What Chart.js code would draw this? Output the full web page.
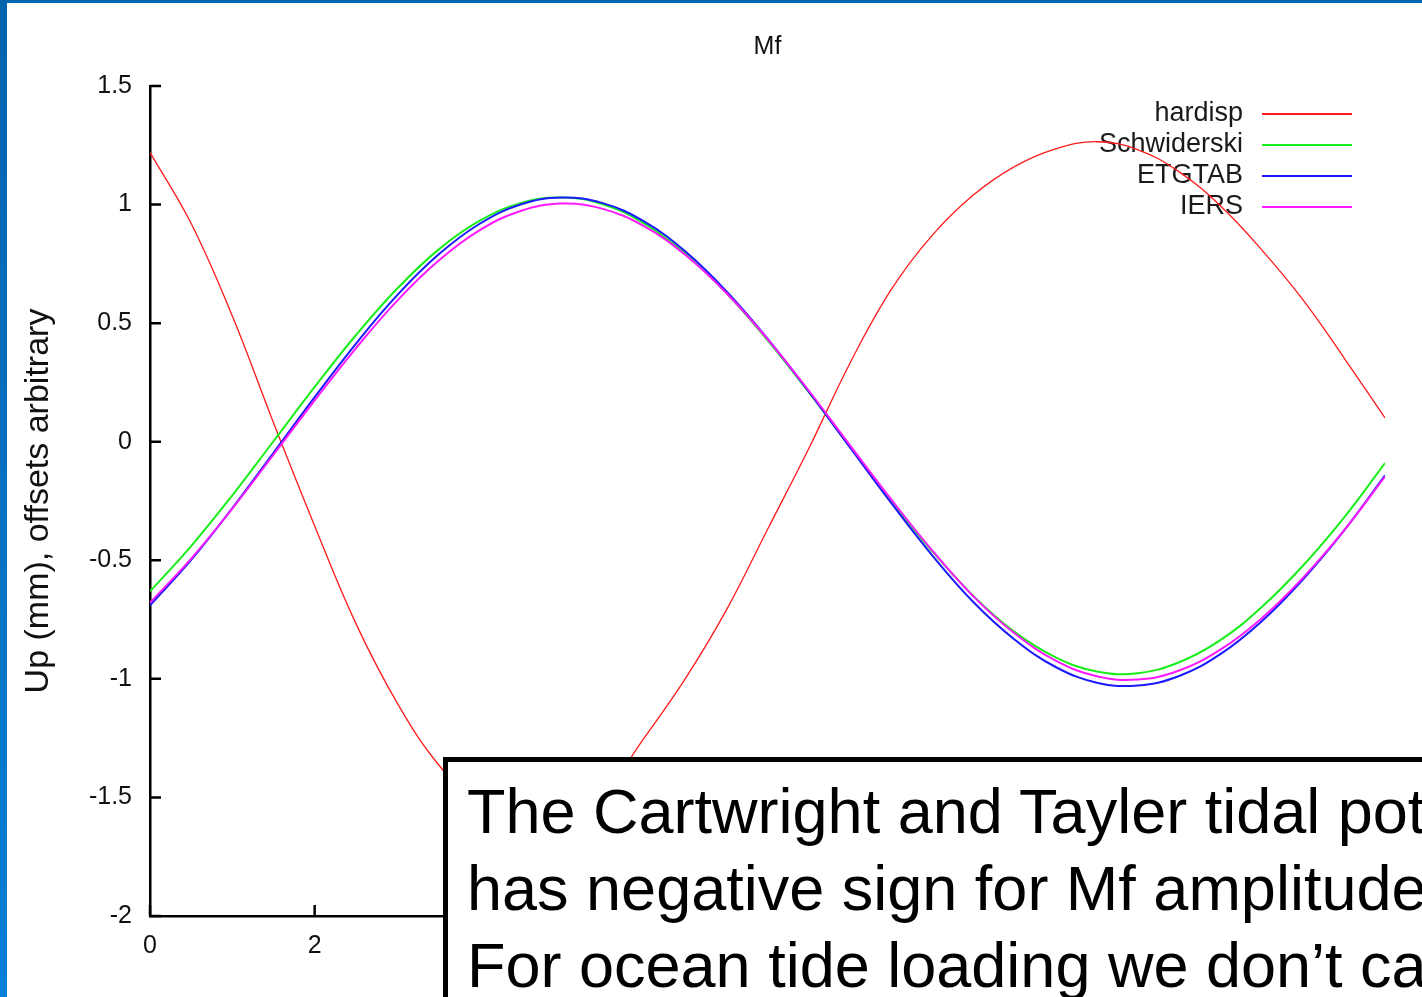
<!DOCTYPE html>
<html>
<head>
<meta charset="utf-8">
<title>Mf</title>
<script src="https://cdn.jsdelivr.net/npm/chart.js"></script>
<style>
    html, body { margin: 0; padding: 0; background: #fff; overflow: hidden; }
    #slide { position: relative; width: 1422px; height: 997px; overflow: hidden; background: #fff; }
    #grafico { position: absolute; left: 0; top: 0; }
    #barraIzq { position: absolute; left: 0; top: 0; width: 7px; height: 997px; background: linear-gradient(#0063ae, #0a7fd6); }
    #barraSup { position: absolute; left: 0; top: 0; width: 1422px; height: 3px; background: #0066b0; }
    #nota {
        position: absolute; left: 443px; top: 757px; width: 1100px; height: 300px;
        box-sizing: border-box; border: 5px solid #000; background: #fff;
        padding: 11px 0 0 19px;
        font-family: 'Liberation Sans', Arial, sans-serif; font-size: 63px; line-height: 77px;
        white-space: nowrap; color: #000;
    }
</style>
</head>
<body>
<div id="slide">
    <canvas id="grafico" width="1422" height="997"></canvas>
    <div id="barraSup"></div>
    <div id="barraIzq"></div>
    <div id="nota">
        The Cartwright and Tayler tidal potential<br>
        has negative sign for Mf amplitude<br>
        For ocean tide loading we don’t care
    </div>
</div>
<script>
// Tiempo en días y desplazamiento vertical (mm) de cada modelo
const dias = [0, 0.5, 1, 1.5, 2, 2.5, 3, 3.5, 4, 4.5, 5, 5.5, 6, 6.5, 7, 7.5,
              8, 8.5, 9, 9.5, 10, 10.5, 11, 11.5, 12, 12.5, 13, 13.5, 14, 14.5, 15];

const hardisp = [1.22, 0.92, 0.53, 0.08, -0.355, -0.766, -1.10, -1.36, -1.53, -1.62, -1.61,
                 -1.49, -1.25, -1.00, -0.71, -0.37, -0.03, 0.33, 0.64, 0.87, 1.04,
                 1.16, 1.235, 1.265, 1.231, 1.138, 0.995, 0.81, 0.60, 0.355, 0.10];

const schwiderski = [-0.631, -0.440, -0.226, 0.002, 0.231, 0.449, 0.645, 0.809, 0.931, 1.006, 1.030,
                     1.001, 0.921, 0.794, 0.627, 0.428, 0.209, -0.021, -0.248, -0.462, -0.650,
                     -0.802, -0.909, -0.969, -0.976, -0.930, -0.837, -0.698, -0.524, -0.321, -0.090];

const etgtab = [-0.690, -0.498, -0.280, -0.047, 0.188, 0.413, 0.617, 0.788, 0.918, 1.000, 1.030,
                1.006, 0.929, 0.803, 0.635, 0.435, 0.212, -0.023, -0.257, -0.479, -0.676,
                -0.834, -0.950, -1.016, -1.028, -0.988, -0.896, -0.758, -0.582, -0.376, -0.142];

const iers = [-0.679, -0.493, -0.282, -0.055, 0.174, 0.394, 0.594, 0.762, 0.891, 0.973, 1.004,
              0.982, 0.909, 0.788, 0.627, 0.433, 0.216, -0.014, -0.242, -0.458, -0.652,
              -0.808, -0.923, -0.989, -1.003, -0.965, -0.877, -0.745, -0.575, -0.375, -0.147];

const nombres = ['hardisp', 'Schwiderski', 'ETGTAB', 'IERS'];
const ticksX = [0, 2, 4, 6, 8, 10, 12, 14];
const ticksY = [-2, -1.5, -1, -0.5, 0, 0.5, 1, 1.5];

const fuente = "'Liberation Sans', Arial, sans-serif";
const colores = ['#ff1a1a', '#1aee1a', '#1a1aff', '#ff1aff'];
const grosores = [1.3, 2, 2, 2];

const serie = (valores) => valores.map((v, i) => ({ x: dias[i], y: v }));

// Leyenda al estilo gnuplot: texto alineado a la derecha y muestra de línea
const leyenda = {
    id: 'leyenda',
    beforeDatasetsDraw(chart) {
        const { ctx, chartArea: a } = chart;
        const x0 = a.right - 123;
        const x1 = a.right - 33;
        ctx.save();
        ctx.font = `27px ${fuente}`;
        ctx.textAlign = 'right';
        ctx.textBaseline = 'middle';
        chart.data.datasets.forEach((ds, i) => {
            const yy = a.top + 28 + i * 31;
            ctx.fillStyle = '#1a1a1a';
            ctx.fillText(ds.label, x0 - 19, yy);
            ctx.strokeStyle = ds.borderColor;
            ctx.lineWidth = 2;
            ctx.beginPath();
            ctx.moveTo(x0, yy);
            ctx.lineTo(x1, yy);
            ctx.stroke();
        });
        ctx.restore();
    }
};

// Marcas de los ejes hacia dentro
const marcasInternas = {
    id: 'marcasInternas',
    afterDatasetsDraw(chart) {
        const { ctx, chartArea: a, scales: { x, y } } = chart;
        ctx.save();
        ctx.strokeStyle = '#000';
        ctx.lineWidth = 2.5;
        ctx.beginPath();
        ticksY.forEach(v => {
            const py = y.getPixelForValue(v);
            ctx.moveTo(a.left, py);
            ctx.lineTo(a.left + 11, py);
        });
        ticksX.forEach(v => {
            const px = x.getPixelForValue(v);
            ctx.moveTo(px, a.bottom);
            ctx.lineTo(px, a.bottom - 11);
        });
        ctx.stroke();
        ctx.restore();
    }
};

const datos = [hardisp, schwiderski, etgtab, iers];

new Chart(document.getElementById('grafico'), {
    type: 'line',
    data: {
        datasets: datos.map((valores, i) => ({
            label: nombres[i],
            data: serie(valores),
            borderColor: colores[i],
            borderWidth: grosores[i],
            pointRadius: 0,
            fill: false,
            tension: 0.4,
            order: datos.length - i
        }))
    },
    options: {
        responsive: false,
        animation: false,
        devicePixelRatio: 1,
        layout: { padding: { left: 0, right: 37, top: 0, bottom: 0 } },
        plugins: {
            legend: { display: false },
            tooltip: { enabled: false },
            title: {
                display: true,
                text: 'Mf',
                fullSize: false,
                color: '#111',
                font: { family: fuente, size: 25, weight: 'normal' },
                padding: { top: 32, bottom: 24 }
            }
        },
        scales: {
            x: {
                type: 'linear',
                min: 0,
                max: 15,
                grid: { display: false, drawTicks: false },
                border: { display: true, color: '#000', width: 2.5 },
                afterBuildTicks: (s) => { s.ticks = ticksX.map(v => ({ value: v })); },
                afterFit: (s) => { s.height = 81; },
                ticks: {
                    color: '#111',
                    padding: 15,
                    maxRotation: 0,
                    font: { family: fuente, size: 25 },
                    callback: (v) => String(v)
                }
            },
            y: {
                type: 'linear',
                min: -2,
                max: 1.5,
                grid: { display: false, drawTicks: false },
                border: { display: true, color: '#000', width: 2.5 },
                afterBuildTicks: (s) => { s.ticks = ticksY.map(v => ({ value: v })); },
                afterFit: (s) => { s.width = 150; },
                ticks: {
                    color: '#111',
                    padding: 18,
                    font: { family: fuente, size: 25 },
                    callback: (v) => String(v)
                },
                title: {
                    display: true,
                    text: 'Up (mm), offsets arbitrary',
                    color: '#111',
                    font: { family: fuente, size: 34 },
                    padding: { top: 18, bottom: 0 }
                }
            }
        }
    },
    plugins: [leyenda, marcasInternas]
});
</script>
</body>
</html>
